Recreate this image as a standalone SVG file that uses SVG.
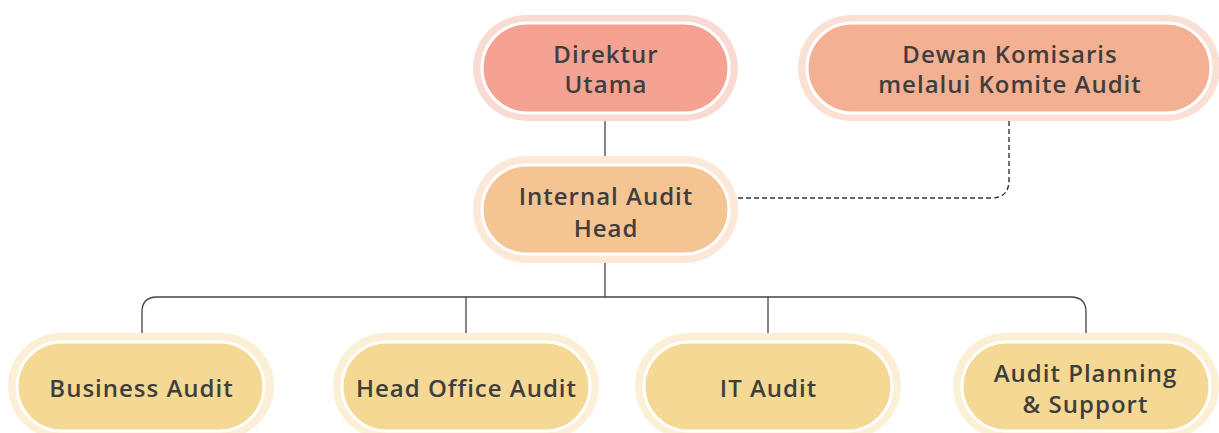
<svg xmlns="http://www.w3.org/2000/svg" width="1219" height="433" viewBox="0 0 1219 433">
  <style>
    .lbl { font-family: "Open Sans", "Liberation Sans", sans-serif; font-weight: 600; font-size: 24px; letter-spacing: 1px; fill: #3e3e3e; text-anchor: middle; }
    .ring { stroke: #ffffff; stroke-width: 3; }
    .wire { fill: none; stroke: #444444; stroke-width: 1.3; }
    .dash { fill: none; stroke: #333333; stroke-width: 1.4; stroke-dasharray: 5 3; }
  </style>

  <!-- connectors -->
  <g id="connectors">
    <path class="wire" d="M605,121 V156"/>
    <path class="dash" d="M1009,121 V180 Q1009,198 991,198 H737"/>
    <path class="wire" d="M605,263 V297"/>
    <path class="wire" d="M142,333 V312 Q142,297 157,297 H1071 Q1086,297 1086,312 V333"/>
    <path class="wire" d="M466,297 V333"/>
    <path class="wire" d="M768,297 V333"/>
  </g>

  <g id="direktur-utama">
    <rect x="473" y="15" width="265" height="106" rx="53" fill="#fadbd3"/>
    <rect class="ring" x="482" y="23" width="247" height="90" rx="45" fill="#f5a293"/>
    <text class="lbl" x="606" y="63">Direktur</text>
    <text class="lbl" x="606" y="93">Utama</text>
  </g>

  <g id="dewan-komisaris">
    <rect x="798" y="15" width="422" height="106" rx="53" fill="#fbe0d4"/>
    <rect class="ring" x="807" y="23" width="404" height="90" rx="45" fill="#f4b093"/>
    <text class="lbl" x="1010" y="63">Dewan Komisaris</text>
    <text class="lbl" x="1010" y="93">melalui Komite Audit</text>
  </g>

  <g id="internal-audit-head">
    <rect x="473" y="156" width="265" height="107" rx="53.5" fill="#fde8d7"/>
    <rect class="ring" x="482" y="165" width="247" height="89" rx="44.5" fill="#f5c493"/>
    <text class="lbl" x="606" y="205">Internal Audit</text>
    <text class="lbl" x="606" y="237">Head</text>
  </g>

  <g id="business-audit">
    <rect x="8" y="333" width="266" height="106" rx="53" fill="#fbf0d6"/>
    <rect class="ring" x="17" y="342" width="247" height="89" rx="44.5" fill="#f4d893"/>
    <text class="lbl" x="141.5" y="397">Business Audit</text>
  </g>

  <g id="head-office-audit">
    <rect x="333" y="333" width="266" height="106" rx="53" fill="#fbf0d6"/>
    <rect class="ring" x="342" y="342" width="248" height="89" rx="44.5" fill="#f4d893"/>
    <text class="lbl" x="466.5" y="397">Head Office Audit</text>
  </g>

  <g id="it-audit">
    <rect x="635" y="333" width="266" height="106" rx="53" fill="#fbf0d6"/>
    <rect class="ring" x="644" y="342" width="248" height="89" rx="44.5" fill="#f4d893"/>
    <text class="lbl" x="768.5" y="397">IT Audit</text>
  </g>

  <g id="audit-planning-support">
    <rect x="953" y="333" width="266" height="106" rx="53" fill="#fbf0d6"/>
    <rect class="ring" x="962" y="342" width="248" height="89" rx="44.5" fill="#f4d893"/>
    <text class="lbl" x="1085.5" y="382">Audit Planning</text>
    <text class="lbl" x="1085.5" y="413">&amp; Support</text>
  </g>
</svg>
